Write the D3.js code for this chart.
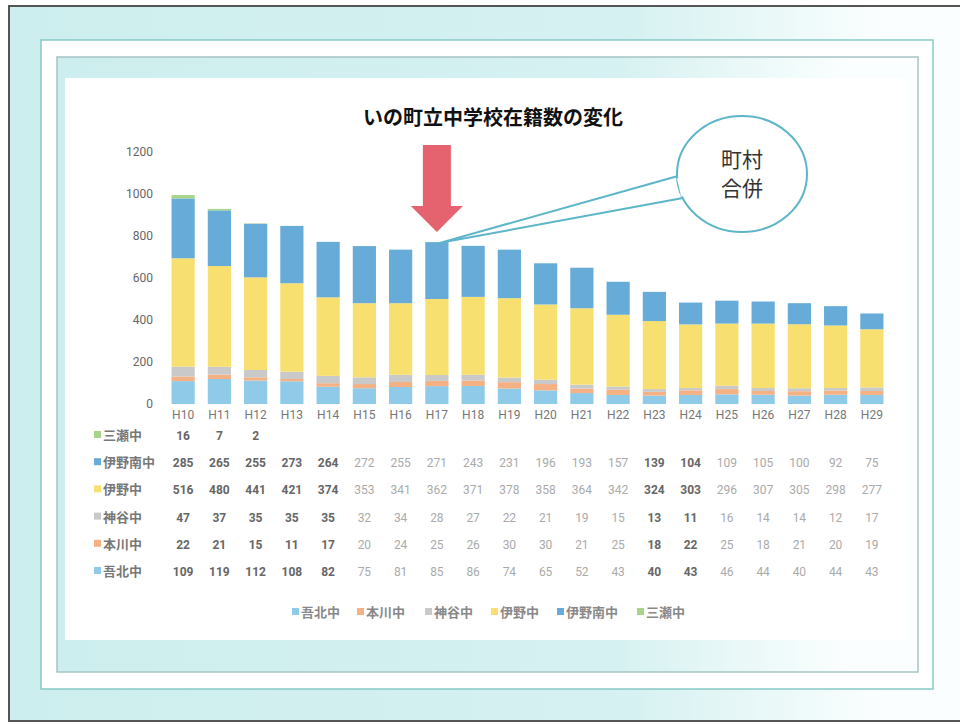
<!DOCTYPE html>
<html>
<head>
<meta charset="utf-8">
<script src="https://cdn.jsdelivr.net/npm/d3@7"></script>
<style>
  body { margin: 0; background: #fff; }
  text { font-family: "Noto Sans CJK JP", "Noto Sans", sans-serif; }
</style>
</head>
<body>
<svg width="960" height="724"></svg>
<script>
// data
var years = ["H10","H11","H12","H13","H14","H15","H16","H17","H18","H19",
             "H20","H21","H22","H23","H24","H25","H26","H27","H28","H29"];
var gohoku   = [109,119,112,108,82,75,81,85,86,74,65,52,43,40,43,46,44,40,44,43];
var honkawa  = [22,21,15,11,17,20,24,25,26,30,30,21,25,18,22,25,18,21,20,19];
var kamiya   = [47,37,35,35,35,32,34,28,27,22,21,19,15,13,11,16,14,14,12,17];
var ino      = [516,480,441,421,374,353,341,362,371,378,358,364,342,324,303,296,307,305,298,277];
var inominami= [285,265,255,273,264,272,255,271,243,231,196,193,157,139,104,109,105,100,92,75];
var mise     = [16,7,2,null,null,null,null,null,null,null,null,null,null,null,null,null,null,null,null,null];

var seriesNames = ["吾北中","本川中","神谷中","伊野中","伊野南中","三瀬中"];
var seriesVals  = [gohoku, honkawa, kamiya, ino, inominami, mise];
var colors = ["#8fcbe9","#f5b184","#c9c9c9","#f8e070","#67acd9","#a8d48a"];
var yTicks = [0,200,400,600,800,1000,1200];

var svg = d3.select("svg");

// scan background / frames
var defs = svg.append("defs");
var grad = defs.append("linearGradient").attr("id","teal").attr("x1","0").attr("x2","1").attr("y1","0").attr("y2","0");
grad.append("stop").attr("offset","0%").attr("stop-color","#cdeeee");
grad.append("stop").attr("offset","65%").attr("stop-color","#d6f1f1");
grad.append("stop").attr("offset","92%").attr("stop-color","#fbfefe");

svg.append("rect").attr("x",9).attr("y",6).attr("width",955).attr("height",715)
    .attr("fill","url(#teal)");
// dark scan edge: left, top, bottom only
svg.append("path").attr("d","M960,6 L9,6 L9,721 L960,721")
    .attr("fill","none").attr("stroke","#555").attr("stroke-width",2);
svg.append("rect").attr("x",41).attr("y",40).attr("width",892).attr("height",649)
    .attr("fill","#fff").attr("stroke","#86c9c6").attr("stroke-width",1.5);
svg.append("rect").attr("x",57).attr("y",57).attr("width",861).attr("height",615)
    .attr("fill","url(#teal)").attr("stroke","#a6c4c4").attr("stroke-width",1.5);
svg.append("rect").attr("x",65).attr("y",78).attr("width",843).attr("height",562)
    .attr("fill","#fff");

// scales
var x = d3.scaleBand().domain(years).range([165, 890]).paddingInner(0.36).paddingOuter(0.18);
var y = d3.scaleLinear().domain([0, 1200]).range([404, 152]);

var rows = years.map(function(yr, i) {
  var r = { year: yr };
  seriesNames.forEach(function(s, j) { r[s] = seriesVals[j][i] || 0; });
  return r;
});
var stacked = d3.stack().keys(seriesNames)(rows);

// bars
svg.append("g").selectAll("g")
  .data(stacked)
  .enter().append("g")
  .attr("fill", function(d, i) { return colors[i]; })
  .selectAll("rect")
  .data(function(d) { return d; })
  .enter().append("rect")
  .attr("x", function(d) { return x(d.data.year); })
  .attr("y", function(d) { return y(d[1]); })
  .attr("height", function(d) { return y(d[0]) - y(d[1]); })
  .attr("width", x.bandwidth());

// axes
var yAxis = svg.append("g").attr("transform","translate(153,0)")
  .call(d3.axisLeft(y).tickValues(yTicks).tickFormat(d3.format("d")).tickSize(0).tickPadding(0));
yAxis.select(".domain").remove();
yAxis.selectAll("text").attr("fill","#666").style("font-size","12px").style("font-family","Roboto, sans-serif");

var xAxis = svg.append("g").attr("transform","translate(0,406)")
  .call(d3.axisBottom(x).tickSize(0).tickPadding(4));
xAxis.select(".domain").remove();
xAxis.selectAll("text").attr("fill","#777").style("font-size","12px").style("font-family","Roboto, sans-serif");

// title
svg.append("text").attr("x", 493).attr("y", 125).attr("text-anchor","middle")
  .style("font-size","20px").style("font-weight","bold").attr("fill","#111")
  .text("いの町立中学校在籍数の変化");

// red arrow pointing at H17
var ax = x("H17") + x.bandwidth() / 2;
var h17 = 7, tipY = y(d3.sum(seriesVals, function(s) { return s[h17] || 0; })) - 10;
svg.append("path")
  .attr("d", "M" + (ax-14) + ",145 L" + (ax+14) + ",145 L" + (ax+14) + "," + (tipY-26) +
        " L" + (ax+26) + "," + (tipY-26) + " L" + ax + "," + tipY + " L" + (ax-26) + "," + (tipY-26) +
        " L" + (ax-14) + "," + (tipY-26) + "Z")
  .attr("fill","#e5636f");

// callout bubble
var tailY = tipY + 11;
svg.append("path")
  .attr("d", "M678,176 L" + (ax+2) + "," + tailY + " L683,198")
  .attr("fill","#fff").attr("stroke","#5db5c9").attr("stroke-width",2);
svg.append("ellipse").attr("cx",742).attr("cy",174).attr("rx",65).attr("ry",58)
  .attr("fill","#fff").attr("stroke","#5db5c9").attr("stroke-width",2);
svg.append("path").attr("d","M679,178 L683,196").attr("stroke","#fff").attr("stroke-width",4);
svg.append("text").attr("x",742).attr("y",167).attr("text-anchor","middle")
  .style("font-size","21px").attr("fill","#333").text("町村");
svg.append("text").attr("x",742).attr("y",196).attr("text-anchor","middle")
  .style("font-size","21px").attr("fill","#333").text("合併");

// data table (top row 三瀬中 .. bottom row 吾北中)
var tableOrder = [5,4,3,2,1,0];
var rowY = d3.scalePoint().domain(tableOrder).range([440, 576]);
var darkCols = ["H10","H11","H12","H13","H14","H23","H24"];
var table = svg.append("g");
tableOrder.forEach(function(si) {
  var ry = rowY(si);
  table.append("rect").attr("x",94).attr("y",ry-9).attr("width",7).attr("height",7).attr("fill",colors[si]);
  table.append("text").attr("x",103).attr("y",ry).style("font-size","13px")
    .style("font-weight","bold").attr("fill","#777").text(seriesNames[si]);
  table.selectAll(null).data(years).enter().append("text")
    .attr("x", function(d) { return x(d) + x.bandwidth() / 2; })
    .attr("y", ry)
    .attr("text-anchor","middle")
    .style("font-size","12px").style("font-family","Roboto, sans-serif")
    .style("font-weight", function(d) { return darkCols.indexOf(d) >= 0 ? "bold" : "normal"; })
    .attr("fill", function(d) { return darkCols.indexOf(d) >= 0 ? "#666" : "#aaa"; })
    .text(function(d, i) { var v = seriesVals[si][i]; return v == null ? "" : v; });
});

// legend
var legendX = [292, 357, 425, 491, 557, 637];
var legend = svg.append("g");
seriesNames.forEach(function(s, i) {
  legend.append("rect").attr("x",legendX[i]).attr("y",608).attr("width",7).attr("height",7).attr("fill",colors[i]);
  legend.append("text").attr("x",legendX[i]+9).attr("y",617).style("font-size","13px")
    .style("font-weight","bold").attr("fill","#888").text(s);
});
</script>
</body>
</html>
